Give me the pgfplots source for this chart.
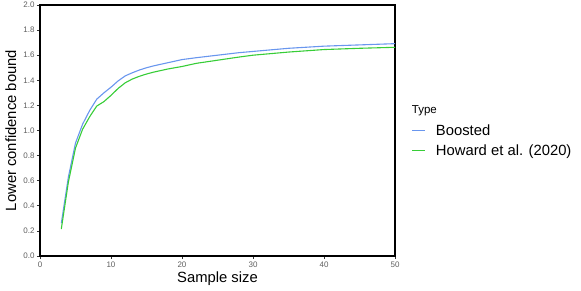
\documentclass[border=0pt]{standalone}
\usepackage{fontspec}
\setmainfont{Liberation Sans}
\usepackage{pgfplots}
\pgfplotsset{compat=1.18}
\definecolor{cblue}{RGB}{105,150,238}
\definecolor{cgreen}{RGB}{55,205,55}
\definecolor{tickgray}{RGB}{95,95,95}
\begin{document}
\begin{tikzpicture}
\useasboundingbox (-40bp,-35bp) rectangle (541bp,256bp);
\begin{axis}[
  scale only axis, width=355bp, height=251bp,
  xmin=0, xmax=50, ymin=0, ymax=2,
  xtick={0,10,20,30,40,50},
  ytick={0,0.2,...,2.01},
  y tick label style={/pgf/number format/fixed, /pgf/number format/fixed zerofill, /pgf/number format/precision=1},
  /pgf/number format/assume math mode=true,
  tick align=outside, major tick length=3bp,
  tick style={line width=0.8bp, color=black!80},
  xtick pos=bottom, ytick pos=left,
  axis line style={line width=1.3bp},
  ticklabel style={font=\fontsize{8bp}{9bp}\selectfont, text=tickgray},
  xticklabel style={yshift=1bp},
  yticklabel style={xshift=1bp},
  xlabel={Sample size}, ylabel={Lower confidence bound},
  label style={font=\fontsize{14.8bp}{16bp}\selectfont},
  x label style={at={(axis description cs:0.5,-0.1036)}, anchor=base},
  y label style={at={(axis description cs:-0.0676,0.5)}, anchor=base},
  legend style={at={(rel axis cs:1.047,0.460)}, anchor=west, draw=none, fill=none,
    inner sep=0pt, column sep=8bp, row sep=4bp,
    font=\fontsize{14.8bp}{16bp}\selectfont},
  legend cell align=left,
  clip=false,
]
\addplot[cblue, line width=1.1bp, forget plot] coordinates {
(3,0.26) (4,0.63) (5,0.90) (6,1.05) (7,1.16) (8,1.25) (9,1.30) (10,1.345)
(11,1.395) (12,1.435) (13,1.46) (14,1.482) (15,1.50) (16,1.515) (18,1.54)
(20,1.565) (22,1.58) (25,1.60) (28,1.62) (30,1.63) (35,1.655) (40,1.672)
(45,1.682) (50,1.692)};
\addplot[cgreen, line width=1.1bp, forget plot] coordinates {
(3,0.215) (4,0.59) (5,0.86) (6,1.01) (7,1.11) (8,1.195) (9,1.23) (10,1.28)
(11,1.335) (12,1.38) (13,1.41) (14,1.432) (15,1.45) (16,1.465) (18,1.49)
(20,1.51) (22,1.535) (25,1.56) (28,1.585) (30,1.60) (35,1.625) (40,1.645)
(45,1.655) (50,1.663)};
\addlegendimage{legend image code/.code={\draw[cblue, line width=1.1bp] (0bp,0bp) -- (13bp,0bp);}}
\addlegendentry{\rule[-3bp]{0pt}{13.5bp}Boosted}
\addlegendimage{legend image code/.code={\draw[cgreen, line width=1.1bp] (0bp,0bp) -- (13bp,0bp);}}
\addlegendentry{\rule[-3bp]{0pt}{13.5bp}Howard et al. (2020)}
\node[anchor=west, inner sep=0pt, font=\fontsize{11.5bp}{13bp}\selectfont] at (rel axis cs:1.047,0.578) {Type};
\end{axis}
\end{tikzpicture}
\end{document}
